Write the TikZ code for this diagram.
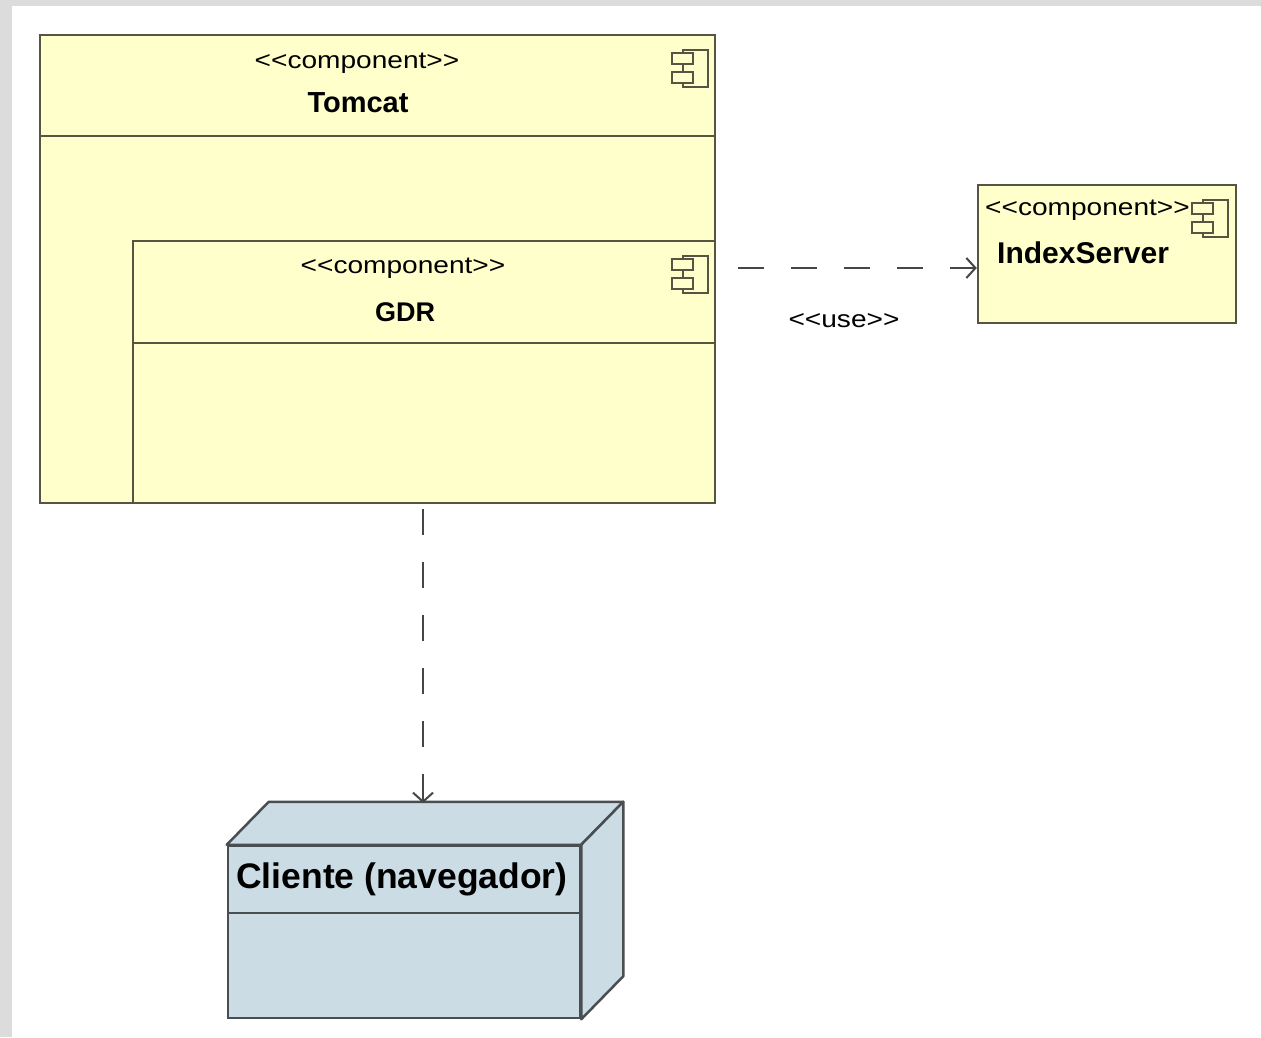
\documentclass[tikz,border=0pt]{standalone}
\usepackage{fontspec}
\setmainfont{Liberation Sans}
\newfontfamily\stereofont[FakeStretch=1.17]{Liberation Sans}
\usetikzlibrary{arrows.meta}
\definecolor{bggray}{RGB}{220,220,220}
\definecolor{compfill}{RGB}{255,255,204}
\definecolor{compline}{RGB}{85,85,66}
\definecolor{nodefill}{RGB}{204,220,228}
\definecolor{nodeline}{RGB}{72,78,82}
\definecolor{depline}{RGB}{70,70,70}
\tikzset{
  compbox/.style={draw=compline, fill=compfill, line width=2.5pt, inner sep=0pt, rectangle},
  nodebox/.style={draw=nodeline, fill=nodefill, line width=2.5pt, inner sep=0pt, rectangle},
  stereo/.style={inner sep=0pt, font=\stereofont\fontsize{24}{28}\selectfont, text=black},
  ctitle/.style={inner sep=0pt, font=\bfseries\fontsize{29}{34}\selectfont, text=black},
  dep/.style={draw=depline, line width=2pt, dash pattern=on 26pt off 27pt,
    -{Straight Barb[length=9pt,width=20pt,line width=2pt]}},
  compicon/.pic={
    \draw[compline, line width=2pt, fill=compfill] (-25,0) rectangle (0,37);
    \draw[compline, line width=2pt, fill=compfill] (-36,3) rectangle (-15,14);
    \draw[compline, line width=2pt, fill=compfill] (-36,22) rectangle (-15,33);
  }
}
\begin{document}
\begin{tikzpicture}[x=1pt,y=-1pt]
\useasboundingbox (0,0) rectangle (1261,1037);
\fill[bggray] (0,0) rectangle (1261,1037);
\fill[white] (12,6) rectangle (1261,1037);

% Tomcat
\node[compbox, minimum width=675pt, minimum height=468pt] (tomcat) at (377.5,269) {};
\coordinate (tdivy) at (0,136);
\draw[compline, line width=2.5pt] (tomcat.west |- tdivy) -- (tomcat.east |- tdivy);
\node[stereo, anchor=base] (tstereo) at (357,68) {<<component>>};
\node[ctitle, anchor=base] (ttitle) at (358,112) {Tomcat};
\pic at (708,50) {compicon};

% GDR
\node[compbox, minimum width=582pt, minimum height=262pt] (gdr) at (424,372) {};
\coordinate (gdivy) at (0,343);
\draw[compline, line width=2.5pt] (gdr.west |- gdivy) -- (gdr.east |- gdivy);
\node[stereo, anchor=base] (gstereo) at (403,273) {<<component>>};
\node[ctitle, anchor=base, font=\bfseries\fontsize{27}{32}\selectfont] (gtitle) at (405,321) {GDR};
\pic at (708,256) {compicon};

% IndexServer
\node[compbox, minimum width=258pt, minimum height=138pt] (idx) at (1107,254) {};
\node[stereo, anchor=base west] (istereo) at (985,215) {<<component>>};
\node[ctitle, anchor=base west, font=\bfseries\fontsize{30}{35}\selectfont] (ititle) at (997,263) {IndexServer};
\pic at (1228,200) {compicon};

% Cliente node (3D box)
\node[nodebox, minimum width=352pt, minimum height=172pt] (cli) at (404,932) {};
\coordinate (cliTL) at ([xshift=42pt,yshift=43pt]cli.north west);
\coordinate (cliTR) at ([xshift=42pt,yshift=43pt]cli.north east);
\coordinate (cliBR) at ([xshift=42pt,yshift=43pt]cli.south east);
\draw[nodeline, fill=nodefill, line width=2.5pt, line join=round]
  (cli.north west) -- (cliTL) -- (cliTR) -- (cli.north east) -- cycle;
\draw[nodeline, fill=nodefill, line width=2.5pt, line join=round]
  (cli.north east) -- (cliTR) -- (cliBR) -- (cli.south east) -- cycle;
\coordinate (cdivy) at (0,913);
\draw[nodeline, line width=2.5pt] (cli.west |- cdivy) -- (cli.east |- cdivy);
\node[ctitle, anchor=base west, font=\bfseries\fontsize{35.5}{40}\selectfont] (ctitle) at (236,888) {Cliente (navegador)};

% Dependencies
\coordinate (useY) at (0,268);
\draw[dep, dash phase=31pt] (gdr.east |- useY) -- (idx.west |- useY);
\node[stereo, anchor=base] (uselbl) at (844,327) {<<use>>};

\coordinate (cliTop) at (423,803);
\draw[dep, dash phase=48pt] (tomcat.south -| cliTop) -- (cliTop);
\end{tikzpicture}
\end{document}
